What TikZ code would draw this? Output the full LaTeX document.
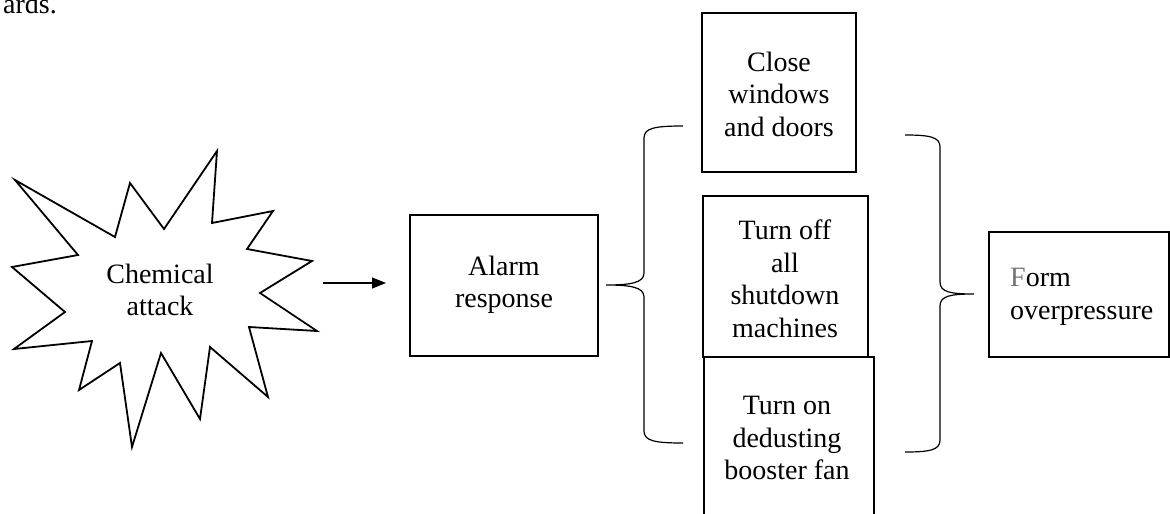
\documentclass[tikz,border=0pt]{standalone}
\usepackage{fontspec}
\setmainfont{Liberation Serif}
\usetikzlibrary{arrows.meta}
\tikzset{
  every node/.style={font=\fontsize{28}{32.5}\selectfont, inner sep=0pt},
  box/.style={draw, line width=1.8pt, rectangle},
  label text/.style={align=center},
  burst/.style={draw, line width=1.8pt, line join=miter},
  brace line/.style={draw, line width=1.2pt},
  flow/.style={line width=1.2pt, -{Triangle[length=14pt,width=11pt]}}
}
\begin{document}
\begin{tikzpicture}[x=1pt, y=-1pt]
  \clip (0,0) rectangle (1170,514);

  % trailing words of the preceding sentence
  \node[anchor=base east] (prev) at (57,13) {ards.};

  % explosion outline
  \path[burst] (15,180) -- (115,237) -- (130,183) -- (164,229) -- (217,151)
    -- (212,223) -- (273,211) -- (247,249) -- (312,261) -- (260,293)
    -- (317,331) -- (249,327) -- (268,397) -- (210,347) -- (200,419)
    -- (161,353) -- (132,447) -- (120,363) -- (79,390) -- (92,341)
    -- (14,349) -- (65,312) -- (12,267) -- (78,255) -- cycle;
  \node[label text] (chem) at (160,290) {Chemical\\attack};

  % alarm
  \node[box, minimum width=188pt, minimum height=141pt] (alarm) at (504,285.5) {};
  \node[label text] (alarmtext) at (504,285) {Alarm\\response};

  \coordinate (arrstart) at (323,283);
  \coordinate (arrend) at (386,283);
  \draw[flow] (arrstart) -- (arrend);

  % three measures
  \node[box, minimum width=154pt, minimum height=159pt] (close) at (779,92.5) {};
  \node[label text] (closetext) at (779,94) {Close\\windows\\and doors};

  \node[box, minimum width=165pt, minimum height=161pt] (off) at (785.5,276.5) {};
  \node[label text] (offtext) at (785,279) {Turn off\\all\\shutdown\\machines};

  \node[box, minimum width=170pt, minimum height=200pt] (on) at (789,457) {};
  \node[label text] (ontext) at (787,438) {Turn on\\dedusting\\booster fan};

  % left brace
  \coordinate (b1top) at (683,126);
  \coordinate (b1tip) at (606,285);
  \coordinate (b1bot) at (683,443);
  \path[brace line] (b1top) .. controls (655,126) and (644,128) .. (644,138)
    -- (644,273) .. controls (644,283) and (630,285) .. (b1tip)
    .. controls (630,285) and (644,287) .. (644,297)
    -- (644,431) .. controls (644,441) and (655,443) .. (b1bot);

  % right brace
  \coordinate (b2top) at (905,135);
  \coordinate (b2tip) at (974,294);
  \coordinate (b2bot) at (905,452);
  \path[brace line] (b2top) .. controls (930,135) and (940,137) .. (940,147)
    -- (940,282) .. controls (940,292) and (950,294) .. (b2tip)
    .. controls (950,294) and (940,296) .. (940,306)
    -- (940,440) .. controls (940,450) and (930,452) .. (b2bot);

  % result
  \node[box, minimum width=180pt, minimum height=125pt] (form) at (1079,294.5) {};
  \node[align=left, anchor=west] (formtext) at (1010,297)
    {\textcolor[gray]{0.45}{F}orm\\overpressure};
\end{tikzpicture}
\end{document}
